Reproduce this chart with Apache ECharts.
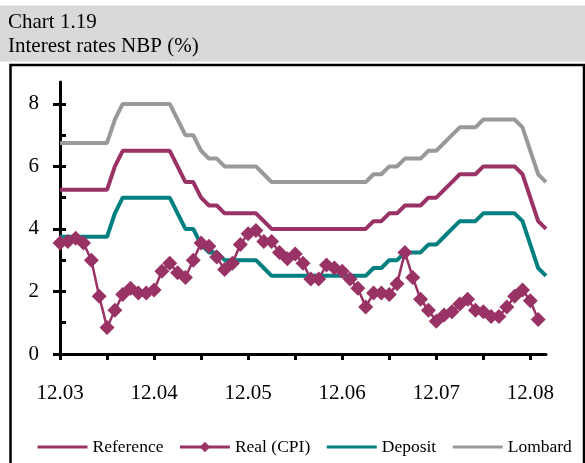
<!DOCTYPE html>
<html>
<head>
<meta charset="utf-8">
<title>Chart 1.19</title>
<script src="https://cdn.jsdelivr.net/npm/echarts@6/dist/echarts.min.js"></script>
<style>
  html, body { margin: 0; padding: 0; background: #fff; }
  #chart { width: 585px; height: 463px; }
</style>
</head>
<body>
<div id="chart"></div>
<script>
// months 12.03 .. 02.09
var months = [
  '12.03',
  '01.04','02.04','03.04','04.04','05.04','06.04','07.04','08.04','09.04','10.04','11.04','12.04',
  '01.05','02.05','03.05','04.05','05.05','06.05','07.05','08.05','09.05','10.05','11.05','12.05',
  '01.06','02.06','03.06','04.06','05.06','06.06','07.06','08.06','09.06','10.06','11.06','12.06',
  '01.07','02.07','03.07','04.07','05.07','06.07','07.07','08.07','09.07','10.07','11.07','12.07',
  '01.08','02.08','03.08','04.08','05.08','06.08','07.08','08.08','09.08','10.08','11.08','12.08',
  '01.09','02.09'
];

var reference = [
  5.25,5.25,5.25,5.25,5.25,5.25,5.25,6.0,6.5,6.5,6.5,6.5,6.5,6.5,6.5,
  6.0,5.5,5.5,5.0,4.75,4.75,4.5,4.5,4.5,4.5,4.5,4.25,
  4.0,4.0,4.0,4.0,4.0,4.0,4.0,4.0,4.0,4.0,4.0,4.0,4.0,
  4.25,4.25,4.5,4.5,4.75,4.75,4.75,5.0,5.0,5.25,5.5,5.75,5.75,5.75,
  6.0,6.0,6.0,6.0,6.0,5.75,5.0,4.25,4.0
];

var realCpi = [
  3.55,3.6,3.7,3.55,3.0,1.85,0.85,1.4,1.9,2.1,1.95,1.95,2.05,2.65,2.9,
  2.6,2.45,3.0,3.55,3.45,3.1,2.7,2.9,3.5,3.85,3.95,3.6,
  3.6,3.25,3.05,3.2,2.9,2.4,2.4,2.85,2.75,2.65,2.4,2.1,1.5,
  1.95,1.95,1.9,2.25,3.25,2.45,1.75,1.4,1.05,1.25,1.35,1.6,1.75,1.4,
  1.35,1.2,1.2,1.5,1.85,2.05,1.7,1.1,null
];

var deposit = [
  3.75,3.75,3.75,3.75,3.75,3.75,3.75,4.5,5.0,5.0,5.0,5.0,5.0,5.0,5.0,
  4.5,4.0,4.0,3.5,3.25,3.25,3.0,3.0,3.0,3.0,3.0,2.75,
  2.5,2.5,2.5,2.5,2.5,2.5,2.5,2.5,2.5,2.5,2.5,2.5,2.5,
  2.75,2.75,3.0,3.0,3.25,3.25,3.25,3.5,3.5,3.75,4.0,4.25,4.25,4.25,
  4.5,4.5,4.5,4.5,4.5,4.25,3.5,2.75,2.5
];

var lombard = [
  6.75,6.75,6.75,6.75,6.75,6.75,6.75,7.5,8.0,8.0,8.0,8.0,8.0,8.0,8.0,
  7.5,7.0,7.0,6.5,6.25,6.25,6.0,6.0,6.0,6.0,6.0,5.75,
  5.5,5.5,5.5,5.5,5.5,5.5,5.5,5.5,5.5,5.5,5.5,5.5,5.5,
  5.75,5.75,6.0,6.0,6.25,6.25,6.25,6.5,6.5,6.75,7.0,7.25,7.25,7.25,
  7.5,7.5,7.5,7.5,7.5,7.25,6.5,5.75,5.5
];

var yLabels = [0, 2, 4, 6, 8];
var yMinor = [1, 2, 3, 4, 5, 6, 7, 8];

var serif = "'Liberation Serif', 'Times New Roman', serif";

var myChart = echarts.init(document.getElementById('chart'));

// legend: plain lines, diamond only on Real (CPI)
var noMark = { opacity: 0 };

myChart.setOption({
  backgroundColor: '#fff',
  animation: false,
  graphic: [
    { type: 'rect', z: -10, shape: { x: 0, y: 5.5, width: 585, height: 56 }, style: { fill: '#d9d9d9' } },
    { type: 'rect', z: 100, shape: { x: 10.5, y: 65, width: 573.5, height: 420 }, style: { fill: 'none', stroke: '#000', lineWidth: 2.5 } },
    { type: 'text', left: 8, top: 12, style: { text: 'Chart 1.19', font: '21px ' + serif, fill: '#000' } },
    { type: 'text', left: 8, top: 35.5, style: { text: 'Interest rates NBP (%)', font: '21px ' + serif, fill: '#000' } }
  ],
  legend: {
    left: 36,
    top: 438,
    padding: 0,
    width: 560,
    itemWidth: 50,
    itemHeight: 13,
    itemGap: 15,
    lineStyle: { width: 3 },
    textStyle: { fontFamily: serif, fontSize: 17.5, color: '#000' },
    data: [
      { name: 'Reference', itemStyle: noMark },
      { name: 'Real (CPI)' },
      { name: 'Deposit', itemStyle: noMark },
      { name: 'Lombard', itemStyle: noMark }
    ]
  },
  grid: {
    left: 60,
    right: 39,
    top: 82,
    bottom: 109,
    outerBoundsMode: 'none'
  },
  xAxis: {
    type: 'category',
    data: months,
    boundaryGap: false,
    axisLine: { lineStyle: { color: '#000', width: 3 } },
    axisTick: { interval: 5, length: 6, lineStyle: { color: '#000', width: 3 } },
    axisLabel: { interval: 11, margin: 29, color: '#000', fontFamily: serif, fontSize: 21 },
    splitLine: { show: false }
  },
  yAxis: [
    {
      type: 'value',
      min: 0,
      max: 8.7,
      axisLine: { show: true, lineStyle: { color: '#000', width: 3 } },
      axisTick: { show: true, length: 7, customValues: yLabels, lineStyle: { color: '#000', width: 3 } },
      axisLabel: { margin: 21, customValues: yLabels, color: '#000', fontFamily: serif, fontSize: 21 },
      splitLine: { show: false }
    },
    {
      type: 'value',
      min: 0,
      max: 8.7,
      position: 'left',
      axisLine: { show: false },
      axisTick: { show: true, inside: true, length: 6, customValues: yMinor, lineStyle: { color: '#000', width: 3 } },
      axisLabel: { show: false },
      splitLine: { show: false }
    }
  ],
  series: [
    {
      name: 'Reference',
      type: 'line',
      data: reference,
      symbol: 'none',
      color: '#993366',
      lineStyle: { width: 4, color: '#993366' }
    },
    {
      name: 'Real (CPI)',
      type: 'line',
      data: realCpi,
      symbol: 'diamond',
      symbolSize: 15,
      showAllSymbol: true,
      color: '#993366',
      lineStyle: { width: 2.5, color: '#993366' },
      itemStyle: { color: '#993366' }
    },
    {
      name: 'Deposit',
      type: 'line',
      data: deposit,
      symbol: 'none',
      color: '#008080',
      lineStyle: { width: 4, color: '#008080' }
    },
    {
      name: 'Lombard',
      type: 'line',
      data: lombard,
      symbol: 'none',
      color: '#999999',
      lineStyle: { width: 4, color: '#999999' }
    }
  ]
});
</script>
</body>
</html>
